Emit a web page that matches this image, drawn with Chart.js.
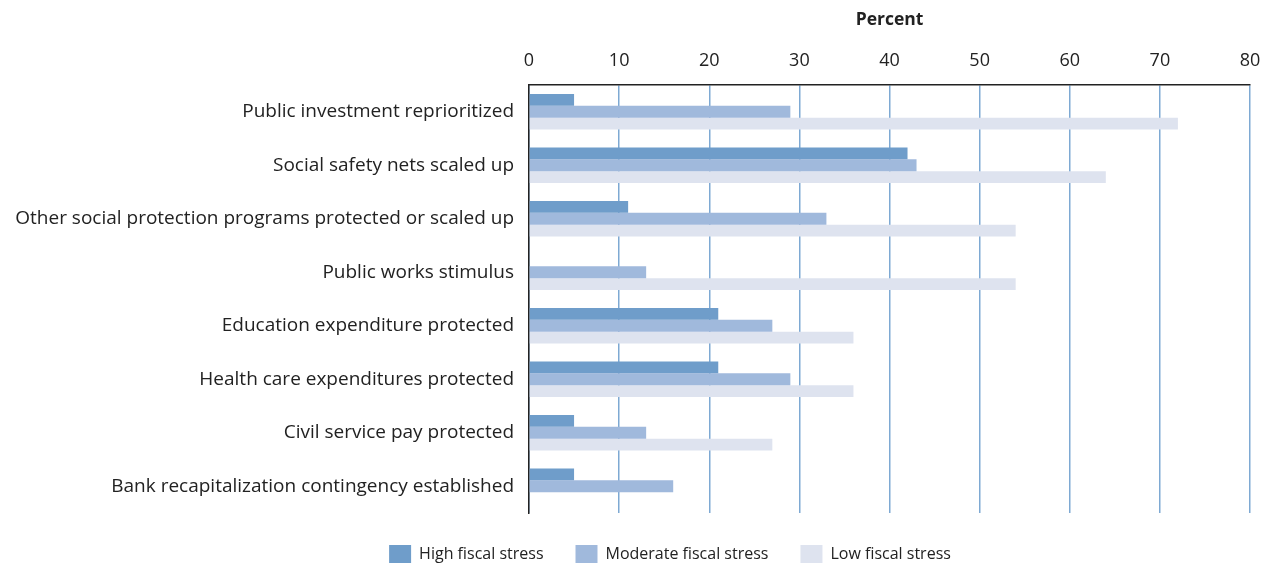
<!DOCTYPE html>
<html>
<head>
<meta charset="utf-8">
<script src="https://cdn.jsdelivr.net/npm/chart.js@4/dist/chart.umd.min.js"></script>
<style>
  html, body { margin: 0; padding: 0; background: #ffffff; }
  #wrap { width: 1268px; height: 564px; }
</style>
</head>
<body>
<div id="wrap"><canvas id="c" width="1268" height="564"></canvas></div>
<script>
const categories = [
  "Public investment reprioritized",
  "Social safety nets scaled up",
  "Other social protection programs protected or scaled up",
  "Public works stimulus",
  "Education expenditure protected",
  "Health care expenditures protected",
  "Civil service pay protected",
  "Bank recapitalization contingency established"
];
const highStress = [5, 42, 11, 0, 21, 21, 5, 5];
const moderateStress = [29, 43, 33, 13, 27, 29, 13, 16];
const lowStress = [72, 64, 54, 54, 36, 36, 27, 0];
const seriesNames = ["High fiscal stress", "Moderate fiscal stress", "Low fiscal stress"];
const xTicks = [0, 10, 20, 30, 40, 50, 60, 70, 80];

const FONT = "'Open Sans', 'Noto Sans', sans-serif";

// shift the (centered) legend to the right, as in the reference
const legendShift = {
  id: 'legendShift',
  afterLayout(chart) {
    const l = chart.legend;
    if (l) { l.left += 45; l.right += 45; }
  }
};

new Chart(document.getElementById('c'), {
  type: 'bar',
  data: {
    labels: categories,
    datasets: [
      { label: seriesNames[0], data: highStress, backgroundColor: '#6f9dca' },
      { label: seriesNames[1], data: moderateStress, backgroundColor: '#a0b9dc' },
      { label: seriesNames[2], data: lowStress, backgroundColor: '#dee3ef' }
    ]
  },
  plugins: [legendShift],
  options: {
    indexAxis: 'y',
    responsive: false,
    animation: false,
    devicePixelRatio: 1,
    categoryPercentage: 0.66,
    barPercentage: 1.0,
    layout: { padding: { left: 0, right: 18, top: 0, bottom: -9 } },
    scales: {
      x: {
        position: 'top',
        min: 0,
        max: 80,
        afterBuildTicks: (scale) => { scale.ticks = xTicks.map(v => ({ value: v })); },
        afterFit: (scale) => { scale.height = 85; scale.paddingRight = 0; scale.paddingLeft = 0; },
        ticks: {
          color: '#222',
          font: { family: FONT, size: 18 },
          padding: 13,
          maxRotation: 0
        },
        grid: {
          color: '#7ea9d3',
          lineWidth: 1.5,
          drawTicks: false
        },
        border: { display: true, color: '#222', width: 1.5 },
        title: {
          display: true,
          text: 'Percent',
          color: '#222',
          font: { family: FONT, size: 17.5, weight: 'bold' },
          padding: { top: 10, bottom: 0 }
        }
      },
      y: {
        afterFit: (scale) => { scale.width = 529; },
        ticks: {
          color: '#222',
          font: { family: FONT, size: 19 },
          padding: 15
        },
        grid: { display: false, drawTicks: false },
        border: { display: true, color: '#222', width: 1.5 }
      }
    },
    plugins: {
      legend: {
        position: 'bottom',
        labels: {
          boxWidth: 22,
          boxHeight: 18,
          padding: 32,
          color: '#222',
          font: { family: FONT, size: 16 }
        }
      },
      tooltip: { enabled: false }
    }
  }
});
</script>
</body>
</html>
